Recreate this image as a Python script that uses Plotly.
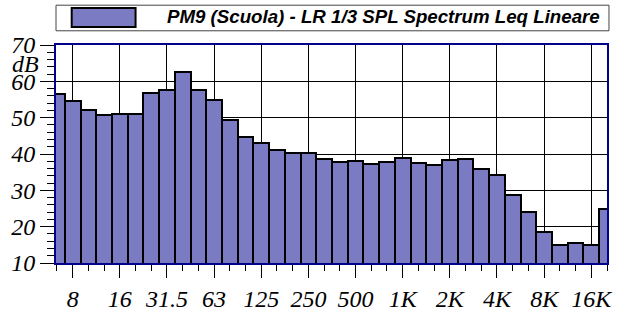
import plotly.graph_objects as go

# 1/3-octave band centre frequencies (Hz)
bands = ["6.3", "8", "10", "12.5", "16", "20", "25", "31.5", "40", "50",
         "63", "80", "100", "125", "160", "200", "250", "315", "400", "500",
         "630", "800", "1000", "1250", "1600", "2000", "2500", "3150", "4000", "5000",
         "6300", "8000", "10000", "12500", "16000", "20000"]

# Linear Leq per band (dB)
leq = [56.5, 54.7, 52.0, 50.7, 51.1, 50.9, 56.8, 57.7, 62.6, 57.5,
       54.8, 49.4, 44.6, 42.9, 41.0, 40.3, 40.2, 38.6, 37.8, 38.0,
       37.3, 37.9, 39.0, 37.4, 36.9, 38.4, 38.7, 35.8, 34.2, 28.7,
       24.0, 18.4, 15.0, 15.6, 15.0, 24.8]

# Octave bands that carry a label on the frequency axis
octave_bands = ["8", "16", "31.5", "63", "125", "250", "500", "1000", "2000", "4000", "8000", "16000"]
octave_labels = ["8", "16", "31.5", "63", "125", "250", "500", "1K", "2K", "4K", "8K", "16K"]

y_ticks = [10, 20, 30, 40, 50, 60, 70]

title_text = "PM9 (Scuola) - LR 1/3 SPL Spectrum Leq Lineare"

bar_fill = "#7B7BC4"
frame = "#00008B"
serif = dict(family="Liberation Serif, Times New Roman, serif", size=24,
             color="black", style="italic")

x_idx = list(range(len(bands)))

fig = go.Figure()
fig.add_trace(go.Bar(
    x=x_idx, y=leq, width=1.0,
    marker=dict(color=bar_fill, line=dict(color="black", width=2)),
    showlegend=False,
    hovertext=bands,
))

fig.update_layout(
    width=623, height=322,
    margin=dict(l=52, r=10, t=45, b=47),
    paper_bgcolor="white", plot_bgcolor="white",
    bargap=0,
    showlegend=False,
)

fig.update_xaxes(
    range=[-0.06, 35.0],
    tickmode="array",
    tickvals=[bands.index(b) for b in octave_bands],
    ticktext=octave_labels,
    tickfont=serif,
    ticks="outside", ticklen=13, tickcolor="black", tickwidth=1,
    minor=dict(tickmode="linear", tick0=0, dtick=1, ticks="outside",
               ticklen=6, tickcolor="black", tickwidth=1, showgrid=False),
    showgrid=True, gridcolor="black", gridwidth=1,
    zeroline=False,
    showline=True, linecolor=frame, linewidth=2, mirror=True,
)

fig.update_yaxes(
    range=[10, 70],
    tickmode="array", tickvals=y_ticks,
    ticktext=[str(v) for v in y_ticks],
    tickfont=serif,
    ticks="outside", ticklen=14, tickcolor="black", tickwidth=1,
    minor=dict(tickmode="linear", tick0=10, dtick=2, ticks="outside",
               ticklen=7, tickcolor="black", tickwidth=1, showgrid=False),
    showgrid=True, gridcolor="black", gridwidth=1,
    zeroline=False,
    showline=True, linecolor=frame, linewidth=2, mirror=True,
)

# Unit label between the 60 and 70 ticks
fig.add_annotation(
    text="dB", xref="paper", yref="y", x=0, y=64.8,
    xanchor="right", yanchor="middle", xshift=-15,
    showarrow=False, font=serif,
)

# Legend box with swatch and series name
fig.add_shape(type="rect", xref="paper", yref="paper",
              x0=0.0, x1=1.0036, y0=1.0652, y1=1.1826,
              line=dict(color="#444444", width=1), fillcolor="white")
fig.add_shape(type="rect", xref="paper", yref="paper",
              x0=0.0285, x1=0.1444, y0=1.0826, y1=1.1696,
              line=dict(color="black", width=2), fillcolor=bar_fill)
fig.add_annotation(
    text="<b>" + title_text + "</b>",
    xref="paper", yref="paper", x=(163 - 52) / 561, y=1.1304,
    xanchor="left", yanchor="middle", showarrow=False,
    font=dict(family="Liberation Sans, Arial, sans-serif", size=18.7,
              color="black", style="italic"),
)

fig.write_html("out.html")
